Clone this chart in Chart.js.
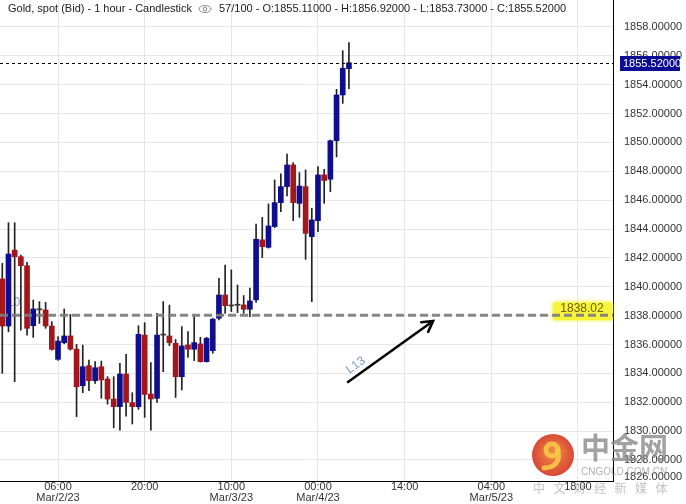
<!DOCTYPE html>
<html>
<head>
<meta charset="utf-8">
<title>Gold, spot (Bid) - 1 hour - Candlestick</title>
<script src="https://cdn.jsdelivr.net/npm/chart.js@4.4.1/dist/chart.umd.min.js"></script>
<style>
    html, body { margin: 0; padding: 0; background: #fff; }
    #wrap { width: 686px; height: 504px; }
</style>
</head>
<body>
<div id="wrap"><canvas id="goldChart" width="686" height="504"></canvas></div>
<script>
// Hourly candles, index 0 = Mar/1/23 21:00, index 56 = Mar/4/23 05:00
const opens = [
    1840.54, 1837.28, 1842.54, 1842.08, 1841.46, 1837.30, 1838.40, 1838.39, 1837.28, 1834.97,
    1836.12, 1836.59, 1835.68, 1833.14, 1834.53, 1833.49, 1834.46, 1833.60, 1832.22, 1831.69,
    1833.95, 1831.97, 1831.69, 1836.65, 1832.57, 1832.27, 1836.65, 1836.59, 1836.08, 1833.77,
    1835.97, 1835.67, 1836.04, 1834.81, 1835.57, 1837.82, 1839.43, 1838.67, 1838.72, 1838.74,
    1838.44, 1839.09, 1843.25, 1842.73, 1844.17, 1845.83, 1846.94, 1848.44, 1845.78, 1846.94,
    1843.47, 1844.58, 1847.75, 1847.45, 1850.12, 1853.29, 1855.11
];
const highs = [
    1841.62, 1844.44, 1844.44, 1842.20, 1841.69, 1839.08, 1838.97, 1838.92, 1837.58, 1836.54,
    1838.46, 1838.09, 1836.00, 1835.96, 1834.92, 1834.81, 1834.85, 1833.77, 1833.77, 1834.69,
    1835.31, 1832.66, 1837.30, 1837.51, 1834.74, 1838.16, 1838.97, 1838.73, 1836.35, 1837.24,
    1836.89, 1837.93, 1836.50, 1836.50, 1837.82, 1840.59, 1841.51, 1841.17, 1840.12, 1839.39,
    1839.90, 1844.35, 1844.81, 1845.74, 1847.40, 1847.82, 1849.20, 1848.60, 1847.91, 1848.10,
    1845.44, 1848.33, 1848.14, 1850.17, 1853.68, 1856.36, 1856.92
];
const lows = [
    1834.00, 1836.88, 1833.42, 1837.00, 1836.65, 1836.49, 1837.46, 1837.12, 1835.61, 1834.90,
    1836.05, 1835.61, 1831.00, 1832.66, 1832.80, 1833.30, 1832.27, 1831.87, 1830.23, 1830.07,
    1831.04, 1830.49, 1831.50, 1830.95, 1830.07, 1831.99, 1834.11, 1835.92, 1832.33, 1832.85,
    1835.11, 1834.88, 1834.78, 1834.78, 1835.39, 1837.70, 1838.16, 1838.28, 1838.21, 1838.16,
    1837.93, 1838.92, 1842.02, 1842.68, 1844.10, 1845.21, 1846.30, 1844.58, 1844.81, 1841.90,
    1838.97, 1843.82, 1845.78, 1846.59, 1849.00, 1852.71, 1853.73
];
const closes = [
    1837.28, 1842.27, 1842.08, 1841.46, 1837.12, 1838.46, 1838.40, 1837.28, 1835.66, 1836.24,
    1836.59, 1835.68, 1833.07, 1834.46, 1833.49, 1834.39, 1833.54, 1832.22, 1831.69, 1833.95,
    1831.99, 1831.69, 1836.70, 1832.54, 1832.22, 1836.65, 1836.65, 1836.12, 1833.77, 1835.90,
    1835.67, 1836.13, 1834.81, 1836.43, 1837.75, 1839.43, 1838.69, 1838.67, 1838.72, 1838.44,
    1839.02, 1843.29, 1842.78, 1844.21, 1845.83, 1846.94, 1848.44, 1845.83, 1846.98, 1843.70,
    1844.63, 1847.75, 1847.36, 1850.12, 1853.29, 1855.14, 1855.52
];

// Time axis labels (hour index from Mar/1 21:00)
const tickHours = [9, 23, 37, 51, 65, 79, 93];
const tickTimes = ['06:00', '20:00', '10:00', '00:00', '14:00', '04:00', '18:00'];
const tickDates = ['Mar/2/23', '', 'Mar/3/23', 'Mar/4/23', '', 'Mar/5/23', ''];

// Price axis labels
const priceTicks = [1828, 1830, 1832, 1834, 1836, 1838, 1840, 1842, 1844, 1846, 1848, 1850, 1852, 1854, 1856, 1858];

// Annotations
const lastPrice = 1855.52;
const levelPrice = 1838.02;
const arrowFrom = [55.85, 1833.40];
const arrowTo = [69.60, 1837.63];

const BLUE = '#0e0e8e';
const RED = '#a3161b';
const WICK = '#222';

Chart.defaults.font.family = 'Arial, "Liberation Sans", sans-serif';

function candleColor(i) {
    if (closes[i] > opens[i]) return BLUE;
    if (closes[i] < opens[i]) return RED;
    return '#333';
}

const bodyData = opens.map((o, i) => ({ x: i, y: [o, closes[i]] }));
const wickData = lows.map((l, i) => ({ x: i, y: [l, highs[i]] }));

/**
 * Chart decorations: level lines, price tags, arrow, header, watermark
 */
const overlayPlugin = {
    id: 'overlay',
    beforeDatasetsDraw(chart) {
        const { ctx, scales: { x, y } } = chart;
        ctx.save();
        ctx.font = '12px Arial';
        ctx.fillStyle = '#7f9bd1';
        ctx.textBaseline = 'middle';
        ctx.fillText('L0', x.getPixelForValue(0.75), y.getPixelForValue(1838.9));
        ctx.restore();
    },
    afterDatasetsDraw(chart) {
        const { ctx, chartArea: area, scales: { x, y } } = chart;
        ctx.save();

        // Last price: dotted line + blue tag on axis
        const yl = Math.round(y.getPixelForValue(lastPrice)) + 0.5;
        ctx.strokeStyle = '#000';
        ctx.lineWidth = 1;
        ctx.setLineDash([3, 3]);
        ctx.beginPath();
        ctx.moveTo(area.left, yl);
        ctx.lineTo(area.right, yl);
        ctx.stroke();
        ctx.setLineDash([]);
        ctx.fillStyle = '#0b0b94';
        ctx.fillRect(area.right + 7, yl - 7.5, 60, 15);
        ctx.fillStyle = '#fff';
        ctx.font = '11px Arial';
        ctx.textBaseline = 'middle';
        ctx.textAlign = 'left';
        ctx.fillText(lastPrice.toFixed(5), area.right + 10, yl + 0.5);

        // Horizontal level with yellow tag
        const yv = y.getPixelForValue(levelPrice);
        ctx.shadowColor = '#f2ee00';
        ctx.shadowBlur = 5;
        ctx.fillStyle = '#f7f43a';
        ctx.fillRect(area.right - 60, yv - 13, 59, 18);
        ctx.shadowBlur = 0;
        ctx.fillStyle = '#6e5e08';
        ctx.font = '12px Arial';
        ctx.textAlign = 'center';
        ctx.fillText(levelPrice.toFixed(2), area.right - 31, yv - 7);
        ctx.strokeStyle = 'rgba(125,125,125,0.92)';
        ctx.lineWidth = 3;
        ctx.setLineDash([8, 4]);
        ctx.beginPath();
        ctx.moveTo(area.left, yv);
        ctx.lineTo(area.right, yv);
        ctx.stroke();
        ctx.setLineDash([]);

        // Arrow
        const x0 = x.getPixelForValue(arrowFrom[0]), y0 = y.getPixelForValue(arrowFrom[1]);
        const x1 = x.getPixelForValue(arrowTo[0]), y1 = y.getPixelForValue(arrowTo[1]);
        const ang = Math.atan2(y1 - y0, x1 - x0);
        ctx.strokeStyle = '#000';
        ctx.lineWidth = 2.5;
        ctx.lineCap = 'round';
        ctx.beginPath();
        ctx.moveTo(x0, y0);
        ctx.lineTo(x1, y1);
        ctx.moveTo(x1 - 12 * Math.cos(ang - 0.52), y1 - 12 * Math.sin(ang - 0.52));
        ctx.lineTo(x1, y1);
        ctx.lineTo(x1 - 12 * Math.cos(ang + 0.52), y1 - 12 * Math.sin(ang + 0.52));
        ctx.stroke();

        // L13 label along the arrow
        ctx.save();
        ctx.translate(x0, y0);
        ctx.rotate(ang);
        ctx.fillStyle = '#7f9bd1';
        ctx.font = '12px Arial';
        ctx.textAlign = 'center';
        ctx.textBaseline = 'middle';
        ctx.fillText('L13', 16, -9);
        ctx.restore();

        // Header
        ctx.fillStyle = '#222';
        ctx.font = '11px Arial';
        ctx.textAlign = 'left';
        ctx.textBaseline = 'middle';
        ctx.fillText('Gold, spot (Bid) - 1 hour - Candlestick', 8, 9);
        ctx.strokeStyle = '#8a8a8a';
        ctx.lineWidth = 1;
        ctx.beginPath();
        ctx.ellipse(205, 9, 6, 3.5, 0, 0, Math.PI * 2);
        ctx.stroke();
        ctx.beginPath();
        ctx.arc(205, 9, 1.8, 0, Math.PI * 2);
        ctx.stroke();
        ctx.fillText('57/100 - O:1855.11000 - H:1856.92000 - L:1853.73000 - C:1855.52000', 219, 9);

        // bottom price label squeezed at the edge
        ctx.fillStyle = '#333';
        ctx.fillText('1826.00000', area.right + 11, area.bottom - 4);
        ctx.restore();
    },
    afterDraw(chart) {
        const ctx = chart.ctx;
        ctx.save();
        ctx.globalAlpha = 0.9;
        // logo disc
        const g = ctx.createRadialGradient(553, 452, 3, 553, 455, 22);
        g.addColorStop(0, '#f0792c');
        g.addColorStop(1, '#d0301f');
        ctx.fillStyle = g;
        ctx.beginPath();
        ctx.arc(553, 455, 21, 0, Math.PI * 2);
        ctx.fill();
        ctx.strokeStyle = '#f7c848';
        ctx.lineWidth = 5;
        ctx.lineCap = 'round';
        ctx.beginPath();
        ctx.arc(552, 450, 6, 0, Math.PI * 2);
        ctx.stroke();
        ctx.beginPath();
        ctx.moveTo(558, 451);
        ctx.quadraticCurveTo(561, 467, 544, 468);
        ctx.stroke();

        ctx.globalAlpha = 0.8;
        ctx.fillStyle = '#8a8a8a';
        ctx.font = 'bold 29px "Noto Sans CJK SC"';
        ctx.textBaseline = 'top';
        ctx.textAlign = 'left';
        ctx.fillText('中金网', 581, 433);

        ctx.fillStyle = '#a0a0a0';
        ctx.font = '10px Arial';
        ctx.textBaseline = 'middle';
        ctx.fillText('CNGOLD.COM.CN', 581, 472);

        ctx.globalAlpha = 0.7;
        ctx.fillStyle = '#a8a8a8';
        ctx.font = '12px "Noto Sans CJK SC"';
        '中文财经新媒体'.split('').forEach((ch, k) => {
            ctx.fillText(ch, 533 + k * 20.4, 488);
        });
        ctx.restore();
    }
};

const ctx = document.getElementById('goldChart');

new Chart(ctx, {
    type: 'bar',
    data: {
        datasets: [
            {
                label: 'Body',
                data: bodyData,
                backgroundColor: opens.map((o, i) => candleColor(i)),
                borderWidth: 0,
                maxBarThickness: 5,
                minBarLength: 1,
                barPercentage: 1,
                categoryPercentage: 1,
                grouped: false
            },
            {
                label: 'Wick',
                data: wickData,
                backgroundColor: WICK,
                borderWidth: 0,
                maxBarThickness: 1,
                barPercentage: 1,
                categoryPercentage: 1,
                grouped: false
            }
        ]
    },
    options: {
        responsive: false,
        animation: false,
        layout: { padding: 0 },
        plugins: {
            legend: { display: false },
            tooltip: { enabled: false }
        },
        scales: {
            x: {
                type: 'linear',
                min: -0.37,
                max: 98.66,
                offset: false,
                grid: { color: '#e6e6e6', offset: false, drawTicks: false },
                border: { color: '#000', width: 1 },
                ticks: {
                    padding: 0,
                    color: '#333',
                    font: { size: 11, lineHeight: 1 },
                    autoSkip: false,
                    maxRotation: 0,
                    callback: (v) => {
                        const k = tickHours.indexOf(v);
                        if (k < 0) return '';
                        return tickDates[k] ? [tickTimes[k], tickDates[k]] : tickTimes[k];
                    }
                },
                afterBuildTicks: (s) => { s.ticks = tickHours.map(v => ({ value: v })); },
                afterFit: (s) => { s.height = 23; s.paddingLeft = 0; s.paddingRight = 0; }
            },
            y: {
                position: 'right',
                min: 1826.54,
                max: 1859.87,
                grid: { color: '#e6e6e6', drawTicks: false },
                border: { color: '#000', width: 1 },
                ticks: {
                    padding: 11,
                    color: '#333',
                    font: { size: 11 },
                    autoSkip: false,
                    callback: (v) => Number(v).toFixed(5)
                },
                afterBuildTicks: (s) => { s.ticks = priceTicks.map(v => ({ value: v })); },
                afterFit: (s) => { s.width = 73; s.paddingTop = 0; s.paddingBottom = 0; }
            }
        }
    },
    plugins: [overlayPlugin]
});
</script>
</body>
</html>
